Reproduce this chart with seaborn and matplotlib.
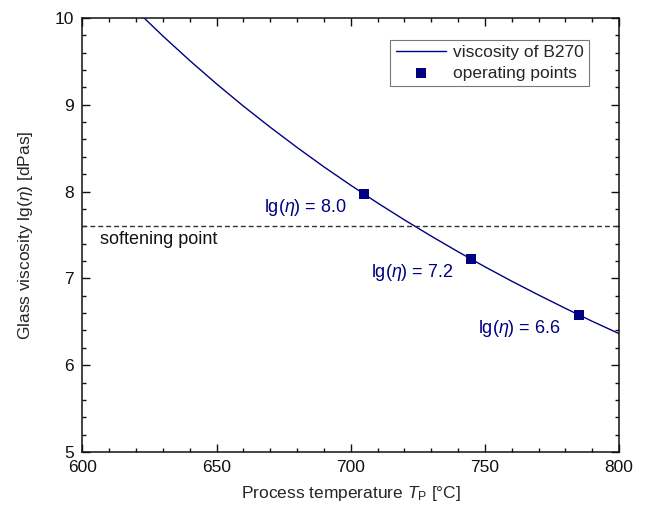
import matplotlib
matplotlib.use("Agg")
import matplotlib.pyplot as plt
from matplotlib.ticker import MultipleLocator
import seaborn as sns
import pandas as pd

# viscosity curve of B270
temp_curve = [620, 630, 640, 650, 660, 670, 680, 690, 700, 710,
              720, 730, 740, 750, 760, 770, 780, 790, 800]
lg_eta_curve = [10.088, 9.791, 9.509, 9.240, 8.984, 8.741, 8.508, 8.285,
                8.073, 7.869, 7.674, 7.487, 7.307, 7.134, 6.968, 6.809,
                6.655, 6.506, 6.364]

# operating points
temp_ops = [705, 745, 785]
lg_eta_ops = [7.97, 7.22, 6.58]
op_labels = ["8.0", "7.2", "6.6"]

softening_lg_eta = 7.6

sns.set_theme(style="ticks")
plt.rcParams["font.family"] = ["Liberation Sans", "DejaVu Sans"]
plt.rcParams["mathtext.fontset"] = "custom"
plt.rcParams["mathtext.rm"] = "Liberation Sans"
plt.rcParams["mathtext.it"] = "Liberation Sans:italic"

curve = pd.DataFrame({"T": temp_curve, "lg": lg_eta_curve})
ops = pd.DataFrame({"T": temp_ops, "lg": lg_eta_ops})

navy = "#000080"
fs = 12.5

fig = plt.figure(figsize=(6.46, 5.12), dpi=100)
ax = fig.add_axes([0.1277, 0.1172, 0.8305, 0.8477])

sns.lineplot(data=curve, x="T", y="lg", ax=ax, color=navy, lw=1.0,
             label="viscosity of B270")
sns.scatterplot(data=ops, x="T", y="lg", ax=ax, color=navy, marker="s",
                s=55, edgecolor=navy, linewidth=0, label="operating points",
                zorder=3)

ax.axhline(softening_lg_eta, color="#333333", lw=1.0, ls=(0, (3.5, 2.2)))
ax.text(606.5, 7.55, "softening point", fontsize=13, va="top", ha="left",
        color="#111111")

label_pos = [(667.7, 7.82), (707.5, 7.07), (747.5, 6.42)]
for (x, y), lab in zip(label_pos, op_labels):
    ax.text(x, y, r"lg($\eta$) = " + lab, fontsize=13, color=navy,
            ha="left", va="center")

ax.set_xlim(600, 800)
ax.set_ylim(5, 10)
ax.xaxis.set_major_locator(MultipleLocator(50))
ax.xaxis.set_minor_locator(MultipleLocator(10))
ax.yaxis.set_major_locator(MultipleLocator(1))
ax.yaxis.set_minor_locator(MultipleLocator(0.2))
ax.tick_params(which="both", direction="in", top=True, right=True,
               labelsize=fs, colors="#111111")
ax.tick_params(which="major", length=6, width=1.0, pad=6)
ax.tick_params(which="minor", length=3, width=1.0)
for sp in ax.spines.values():
    sp.set_visible(True)
    sp.set_linewidth(1.1)
    sp.set_color("#111111")

ax.set_xlabel(r"Process temperature $T_\mathrm{P}$ [°C]", fontsize=fs,
              labelpad=6)
ax.set_ylabel(r"Glass viscosity lg($\eta$) [dPas]", fontsize=fs,
              labelpad=14)

leg = ax.legend(loc="upper right", bbox_to_anchor=(0.944, 0.949),
                borderaxespad=0, fontsize=fs, frameon=True, fancybox=False,
                edgecolor="#777777", framealpha=1, handlelength=2.9,
                borderpad=0.3, labelspacing=0.3, handletextpad=0.4)
leg.get_frame().set_linewidth(0.8)

fig.savefig("out.png", dpi=100)
